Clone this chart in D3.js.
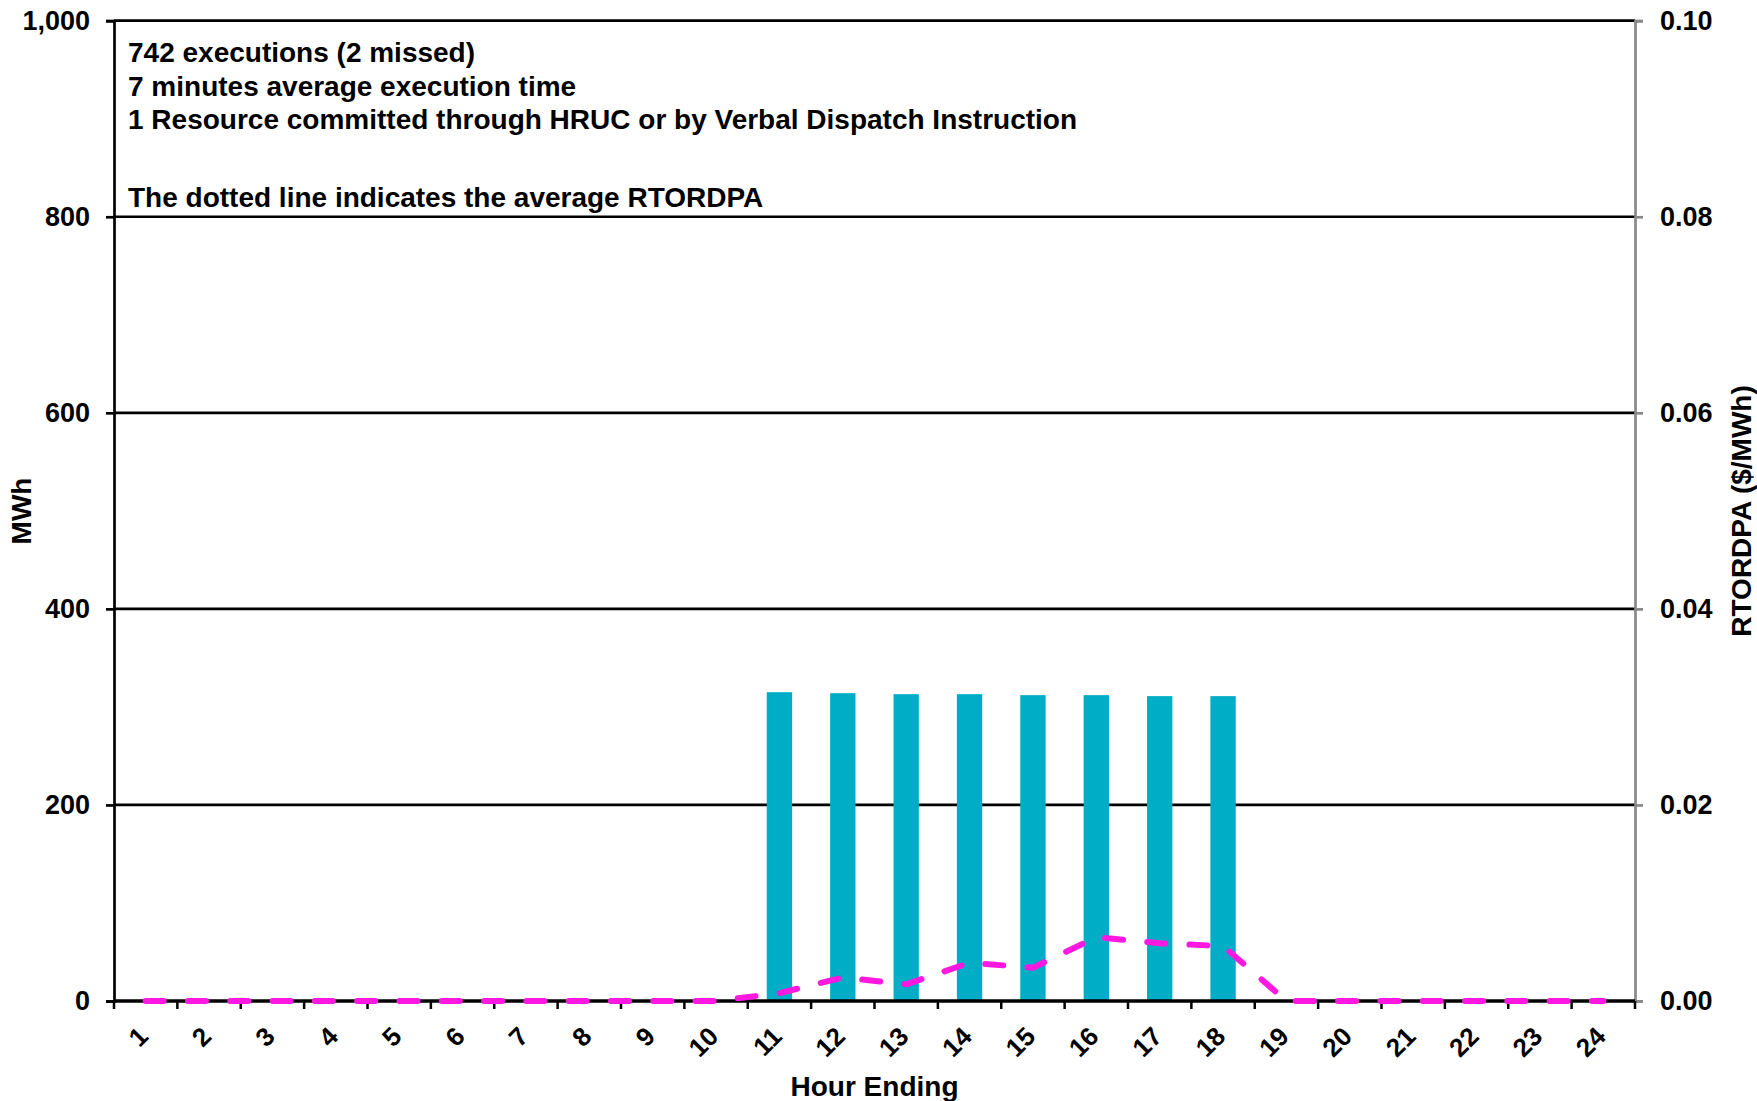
<!DOCTYPE html>
<html>
<head>
<meta charset="utf-8">
<script src="https://cdn.jsdelivr.net/npm/d3@7"></script>
<style>
  body { margin: 0; background: white; }
  text { font-family: 'Liberation Sans', Arial, sans-serif; font-weight: bold; fill: black; }
</style>
</head>
<body>
<script>
// hourly data
var hours = ['1','2','3','4','5','6','7','8','9','10','11','12','13','14','15','16','17','18','19','20','21','22','23','24'];
var mwh = [0,0,0,0,0,0,0,0,0,0,315,314,313,313,312,312,311,311,0,0,0,0,0,0];
var rtordpa = [0,0,0,0,0,0,0,0,0,0,0.0008,0.0024,0.0017,0.0039,0.0034,0.0065,0.0059,0.0056,0,0,0,0,0,0];

var leftTicks = [0,200,400,600,800,1000];
var rightTicks = [0,0.02,0.04,0.06,0.08,0.10];

var notes = [
  '742 executions (2 missed)',
  '7 minutes average execution time',
  '1 Resource committed through HRUC or by Verbal Dispatch Instruction',
  '',
  'The dotted line indicates the average RTORDPA'
];

var chartOptions = {
  width: 1757,
  height: 1101,
  left: 114,
  right: 1635,
  top: 20.7,
  bottom: 1001
};

var svg = d3.select('body').append('svg');

svg
  .attr('width', chartOptions.width)
  .attr('height', chartOptions.height);

var x = d3.scaleBand()
  .domain(hours)
  .range([chartOptions.left, chartOptions.right])
  .paddingInner(0.6)
  .paddingOuter(0.3);

var xPoint = function(h) { return x(h) + x.bandwidth() / 2; };

var y = d3.scaleLinear().domain([0, 1000]).range([chartOptions.bottom, chartOptions.top]);
var y2 = d3.scaleLinear().domain([0, 0.10]).range([chartOptions.bottom, chartOptions.top]);

// gridlines
svg.append('g')
  .selectAll('line')
  .data(leftTicks.filter(function(d) { return d > 0; }))
  .enter().append('line')
  .attr('x1', chartOptions.left)
  .attr('x2', chartOptions.right)
  .attr('y1', function(d) { return y(d); })
  .attr('y2', function(d) { return y(d); })
  .style('stroke', 'black')
  .style('stroke-width', 2.7);

// bars
svg.append('g')
  .selectAll('rect')
  .data(mwh)
  .enter().append('rect')
  .attr('x', function(d, i) { return x(hours[i]); })
  .attr('y', function(d) { return y(d); })
  .attr('width', x.bandwidth())
  .attr('height', function(d) { return y(0) - y(d); })
  .style('fill', '#00ADC7');

// left axis
var leftAxis = svg.append('g')
  .attr('transform', 'translate(' + chartOptions.left + ',0)')
  .call(d3.axisLeft(y).tickValues(leftTicks).tickSize(8).tickPadding(16).tickFormat(d3.format(',')));
leftAxis.select('.domain').style('stroke', 'black').style('stroke-width', 2.7);
leftAxis.selectAll('.tick line').style('stroke', 'black').style('stroke-width', 2.7);
leftAxis.selectAll('.tick text').style('font-size', '27px');

// right axis
var rightAxis = svg.append('g')
  .attr('transform', 'translate(' + chartOptions.right + ',0)')
  .call(d3.axisRight(y2).tickValues(rightTicks).tickSize(8).tickPadding(17).tickFormat(d3.format('.2f')));
rightAxis.select('.domain').style('stroke', '#888').style('stroke-width', 2.7);
rightAxis.selectAll('.tick line').style('stroke', '#888').style('stroke-width', 2.7);
rightAxis.selectAll('.tick text').style('font-size', '27px');

// hour axis: ticks on category edges
var bottomAxis = svg.append('g')
  .attr('transform', 'translate(0,' + chartOptions.bottom + ')');
var step = x.step();
var edges = d3.range(hours.length + 1).map(function(i) { return chartOptions.left + i * step; });
bottomAxis.selectAll('line.tick')
  .data(edges)
  .enter().append('line')
  .attr('class', 'tick')
  .attr('x1', function(d) { return d; })
  .attr('x2', function(d) { return d; })
  .attr('y1', 0)
  .attr('y2', 8)
  .style('stroke', 'black')
  .style('stroke-width', 2.5);
bottomAxis.append('line')
  .attr('x1', chartOptions.left)
  .attr('x2', chartOptions.right)
  .style('stroke', 'black')
  .style('stroke-width', 3.5);
bottomAxis.selectAll('text')
  .data(hours)
  .enter().append('text')
  .attr('transform', function(d) { return 'translate(' + (xPoint(d) + 4) + ',37) rotate(-45)'; })
  .attr('text-anchor', 'end')
  .style('font-size', '26px')
  .text(function(d) { return d; });

// RTORDPA line
var line = d3.line()
  .x(function(d, i) { return xPoint(hours[i]); })
  .y(function(d) { return y2(d); });

svg.append('path')
  .datum(rtordpa)
  .attr('d', line)
  .style('fill', 'none')
  .style('stroke', '#FF19E0')
  .style('stroke-width', 6)
  .style('stroke-linecap', 'round')
  .style('stroke-dasharray', '18,24.3');

// notes
svg.append('g')
  .selectAll('text')
  .data(notes)
  .enter().append('text')
  .attr('x', 128)
  .attr('y', function(d, i) { return i < 4 ? 62 + i * 33.6 : 207; })
  .style('font-size', '28px')
  .text(function(d) { return d; });

// axis titles
svg.append('text')
  .attr('transform', 'translate(' + (chartOptions.left + chartOptions.right) / 2 + ',1096)')
  .attr('text-anchor', 'middle')
  .style('font-size', '28px')
  .text('Hour Ending');

svg.append('text')
  .attr('transform', 'translate(31,511) rotate(-90)')
  .attr('text-anchor', 'middle')
  .style('font-size', '28px')
  .text('MWh');

svg.append('text')
  .attr('transform', 'translate(1751,511) rotate(-90)')
  .attr('text-anchor', 'middle')
  .style('font-size', '28px')
  .text('RTORDPA ($/MWh)');
</script>
</body>
</html>
